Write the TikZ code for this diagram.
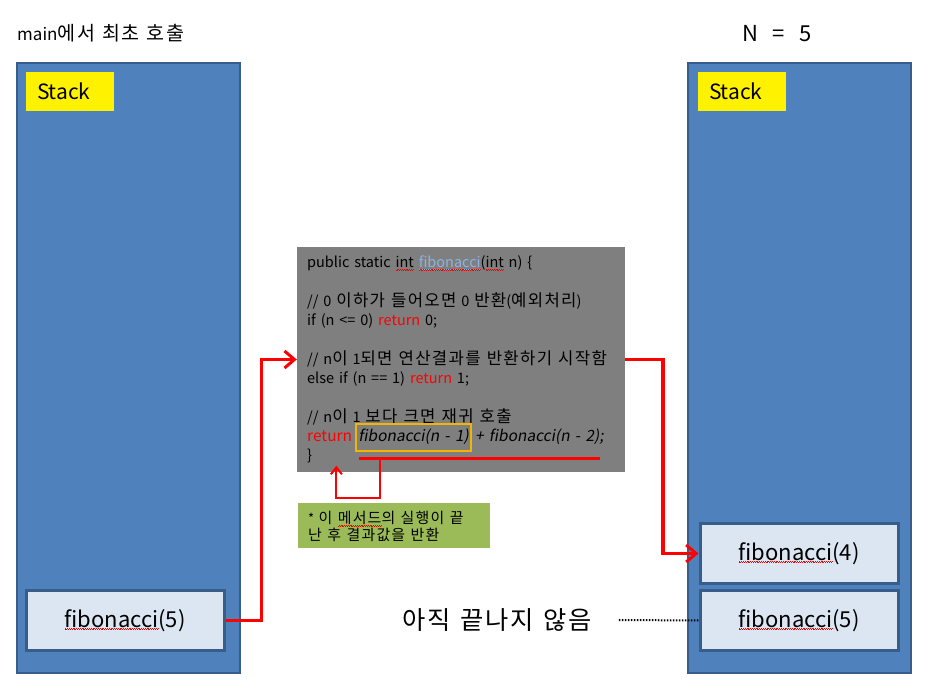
\documentclass[tikz,border=0pt]{standalone}
\usepackage{fontspec}
\setmainfont[WordSpace=1.5]{Noto Sans CJK KR}
\newfontfamily\krf[Scale=1.15,LetterSpace=8,WordSpace=1.2]{Noto Sans CJK KR}
\newfontfamily\krit[FakeSlant=0.18,WordSpace=1.5]{Noto Sans CJK KR}
\newcommand\kr[1]{{\krf #1}}
\usetikzlibrary{arrows.meta,calc}
\definecolor{stackfill}{HTML}{4F81BD}
\definecolor{stackline}{HTML}{385D8A}
\definecolor{framefill}{HTML}{DCE6F2}
\definecolor{codegray}{HTML}{7F7F7F}
\definecolor{notegreen}{HTML}{9BBB59}
\definecolor{boxorange}{HTML}{F5B400}
\definecolor{linkblue}{HTML}{8DB3E2}
\newsavebox\sqbox
\newcommand\sq[1]{\sbox\sqbox{#1}\rlap{\usebox\sqbox}\lower2.4pt\hbox to\wd\sqbox{\color{red}\xleaders\hbox{\vrule width .9pt height .45pt depth 0pt\raise.8pt\hbox{\vrule width .9pt height .45pt depth 0pt}}\hfil}}
\tikzset{
  stackbox/.style={draw=stackline, fill=stackfill, line width=2.5pt, minimum width=223pt, minimum height=610pt, inner sep=0pt},
  stacklabel/.style={fill=yellow, minimum width=88pt, minimum height=39pt, inner sep=0pt, font=\fontsize{21}{24}\selectfont, text width=66pt, align=left},
  framebox/.style={draw=stackline, fill=framefill, line width=3pt, minimum width=198pt, minimum height=60pt, inner sep=0pt, font=\fontsize{22}{26}\selectfont},
  codeline/.style={anchor=base west, inner sep=0pt, font=\fontsize{14.5}{16}\selectfont},
  retline/.style={anchor=base west, inner sep=0pt, font=\fontsize{15.5}{17}\selectfont},
  callarrow/.style={draw=red, line width=3.5pt, -{Straight Barb[length=10pt,width=17pt,line width=3pt]}},
  backarrow/.style={draw=red, line width=2pt, -{Straight Barb[length=7pt,width=11pt,line width=2pt]}},
}
\begin{document}
\begin{tikzpicture}[x=1pt,y=-1pt]
\useasboundingbox (0,0) rectangle (935,692);
% titles
\node[anchor=west, inner sep=0pt, font=\fontsize{17}{20}\selectfont] (title) at (17,33) {main\kr{에서 최초 호출}};
\node[inner sep=0pt, font=\fontsize{22}{26}\selectfont] (nval) at (777,34) {N\ \ =\ \ 5};
% stacks
\node[stackbox] (lstack) at (128.5,368) {};
\node[stackbox] (rstack) at (799.5,368) {};
\node[stacklabel] (lstk) at (70,91.5) {Stack};
\node[stacklabel] (rstk) at (742,91.5) {Stack};
% frames
\node[framebox] (fibL) at (125,620.5) {\sq{fibonacci}(5)};
\node[framebox] (fibF) at (799,553.5) {\sq{fibonacci}(4)};
\node[framebox] (fibR) at (799,620.5) {\sq{fibonacci}(5)};
% code box
\node[fill=codegray, minimum width=328pt, minimum height=225pt, inner sep=0pt] (code) at (461,359.5) {};
\node[codeline] (c1) at (307,268) {public static \sq{int} \sq{{\color{linkblue}\underline{fibonacci}}}(\sq{int} n) \{};
\node[codeline] (c3) at (307,306.5) {// 0 \kr{이하가 들어오면} 0 \kr{반환}(\kr{예외처리})};
\node[codeline] (c4) at (307,326) {if (n <= 0) {\color{red}return} 0;};
\node[codeline] (c6) at (307,364.5) {// n\kr{이} 1\kr{되면 연산결과를 반환하기 시작함}};
\node[codeline] (c7) at (307,384) {else if (n == 1) {\color{red}return} 1;};
\node[codeline] (c9) at (307,422.5) {// n\kr{이} 1 \kr{보다 크면 재귀 호출}};
\node[retline] (c10a) at (307,442) {\color{red}return};
\node[retline, draw=boxorange, line width=2pt, inner xsep=2pt, minimum height=27pt] (fibA) at ([xshift=3pt]c10a.base east) {\krit fibonacci(n - 1)};
\node[retline] (c10c) at ([xshift=3pt]fibA.base east) {\krit + fibonacci(n - 2);};
\node[codeline] (c11) at (307,461) {\}};
% underline and back arrow
\coordinate (ulS) at ([shift={(4pt,-7pt)}]fibA.south west);
\coordinate (ulE) at (ulS -| c10c.east);
\draw[red, line width=3pt] (ulS) -- ([xshift=-4pt]ulE);
\draw[backarrow] ([xshift=21pt]ulS) -- ++(0,39) -- ++(-44,0) -- ++(0,-32);
% note
\node[fill=notegreen, minimum width=192pt, minimum height=45pt, inner sep=0pt] (note) at (394,525.5) {};
\node[anchor=west, inner sep=0pt, align=left, font=\fontsize{13}{17}\selectfont] (notetext) at (308,526.5) {* \kr{이 \sq{메서드}의 실행이 끝}\\\kr{난 후 결과값을 반환}};
% arrows
\draw[callarrow] (fibL.east) -- ++(36,0) |- (code.west);
\draw[callarrow] (code.east) -- ++(38,0) |- (fibF.west);
% not finished
\node[inner sep=0pt, font=\fontsize{22}{26}\selectfont] (wait) at (497,620) {\kr{아직 끝나지 않음}};
\draw[line width=2pt, dash pattern=on 1.5pt off 1.5pt] ([xshift=27pt]wait.east) -- (fibR.west);
\end{tikzpicture}
\end{document}
